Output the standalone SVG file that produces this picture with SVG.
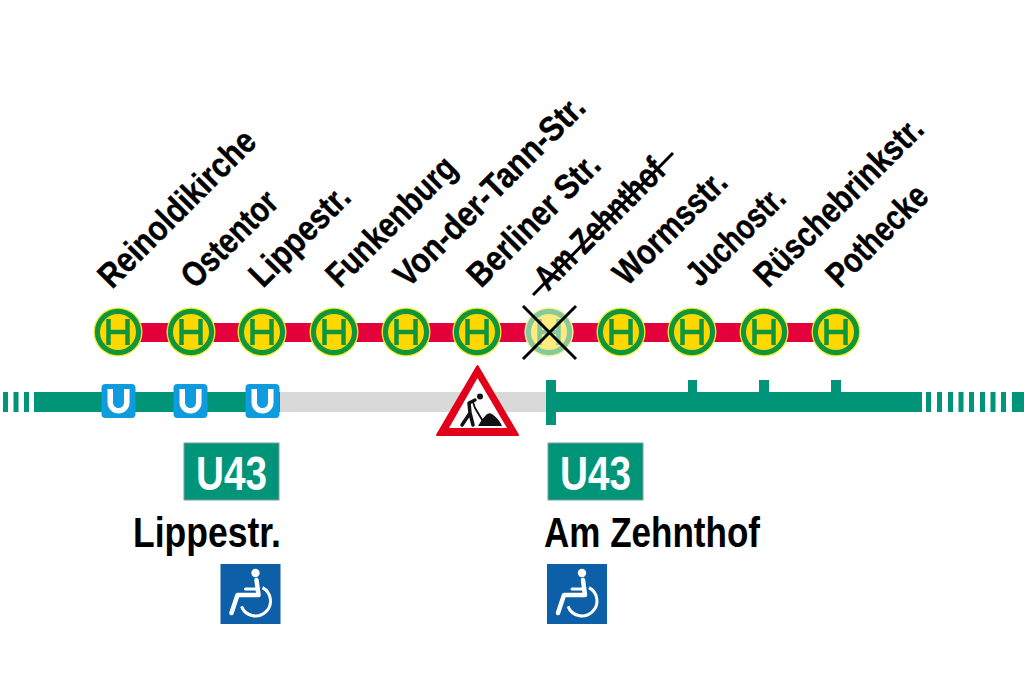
<svg xmlns="http://www.w3.org/2000/svg" width="1024" height="682" viewBox="0 0 1024 682">
<defs>
<style>
.lab{font-family:"Liberation Sans",Arial,sans-serif;font-weight:700;font-size:35px;fill:#000;stroke:#000;stroke-width:.4px}
.big{font-family:"Liberation Sans",Arial,sans-serif;font-weight:700;font-size:42px;fill:#000}
.u{font-family:"Liberation Sans",Arial,sans-serif;font-weight:700;font-size:49px;fill:#fff}
.t{fill:#009479}
</style>
<g id="halt">
<circle r="24.500" fill="#f2ee2a"/>
<circle r="23.200" fill="#0f953c"/>
<circle r="18" fill="#ffd800"/>
<path d="M-9.500-13V13M9.500-13V13M-9.500 0H9.500" fill="none" stroke="#0f953c" stroke-width="4.500"/>
</g>
<g id="ubahn">
<rect x="-17" y="-17" width="34" height="34" rx="4" fill="#0f9cde"/>
<path d="M-8.250-12V1.500A8.250 8.250 0 0 0 8.250 1.500V-12" fill="none" stroke="#fff" stroke-width="5.500"/>
</g>
<g id="wheel">
<rect width="60" height="60" fill="#0d5fa8"/>
<circle cx="35" cy="9" r="4.200" fill="#fff"/>
<path d="M36 16L38 31H17L11 49" fill="none" stroke="#fff" stroke-width="4.500" stroke-linejoin="round" stroke-linecap="round"/>
<path d="M25 25H35" fill="none" stroke="#fff" stroke-width="3" stroke-linecap="round"/>
<path d="M42 23.700A15 15 0 1 1 21 42.400" fill="none" stroke="#fff" stroke-width="3"/>
</g>
</defs>
<g id="connectors">
<rect x="118" y="323" width="718" height="19" fill="#e4003a"/>
<rect x="34" y="392" width="246" height="20" class="t"/>
<rect x="280" y="392" width="266" height="20" fill="#d9d9d9"/>
<rect x="546" y="380" width="10" height="45" class="t"/>
<rect x="556" y="392" width="366" height="20" class="t"/>
<rect x="688" y="380" width="9" height="12" class="t"/>
<rect x="759" y="380" width="10" height="12" class="t"/>
<rect x="831" y="380" width="10" height="12" class="t"/>
<path d="M3 392h5v20h-5zM13.500 392h5v20h-5zM24 392h5v20h-5zM926 392h5v20h-5zM937 392h5v20h-5zM948 392h5v20h-5zM958.500 392h5v20h-5zM969 392h5v20h-5zM980 392h5v20h-5zM990.500 392h5v20h-5zM1001 392h5v20h-5zM1012 392h12v20h-12z" class="t"/>
</g>
<g id="stop-reinoldikirche"><use href="#halt" x="118" y="332"/><use href="#ubahn" x="118.500" y="401"/><text class="lab" transform="translate(112 290) rotate(-45)" textLength="207" lengthAdjust="spacingAndGlyphs">Reinoldikirche</text></g>
<g id="stop-ostentor"><use href="#halt" x="191" y="332"/><use href="#ubahn" x="190.500" y="401"/><text class="lab" transform="translate(195 290) rotate(-45)" textLength="121" lengthAdjust="spacingAndGlyphs">Ostentor</text></g>
<g id="stop-lippestr"><use href="#halt" x="262" y="332"/><use href="#ubahn" x="262.500" y="401"/><text class="lab" transform="translate(263 289) rotate(-45)" textLength="127" lengthAdjust="spacingAndGlyphs">Lippestr.</text></g>
<g id="stop-funkenburg"><use href="#halt" x="334" y="332"/><text class="lab" transform="translate(340 289) rotate(-45)" textLength="168" lengthAdjust="spacingAndGlyphs">Funkenburg</text></g>
<g id="stop-vondertann"><use href="#halt" x="406" y="332"/><text class="lab" transform="translate(408 289) rotate(-45)" textLength="254" lengthAdjust="spacingAndGlyphs">Von-der-Tann-Str.</text></g>
<g id="stop-berliner"><use href="#halt" x="477" y="332"/><text class="lab" transform="translate(481 289) rotate(-45)" textLength="172" lengthAdjust="spacingAndGlyphs">Berliner Str.</text></g>
<g id="stop-zehnthof"><circle cx="549" cy="332" r="24.500" fill="#fff"/><use href="#halt" x="549" y="332" opacity=".5"/><text class="lab" transform="translate(548 292) rotate(-45)" textLength="169" lengthAdjust="spacingAndGlyphs">Am Zehnthof</text>
<path d="M533 295L673 153" stroke="#000" stroke-width="3" fill="none"/>
<path d="M523 306L576 359M576 306L523 359" stroke="#000" stroke-width="3" fill="none"/></g>
<g id="stop-wormsstr"><use href="#halt" x="621" y="332"/><text class="lab" transform="translate(627 287) rotate(-45)" textLength="145" lengthAdjust="spacingAndGlyphs">Wormsstr.</text></g>
<g id="stop-juchostr"><use href="#halt" x="692" y="332"/><text class="lab" transform="translate(700 288) rotate(-45)" textLength="124" lengthAdjust="spacingAndGlyphs">Juchostr.</text></g>
<g id="stop-rueschebrink"><use href="#halt" x="764" y="332"/><text class="lab" transform="translate(768 289) rotate(-45)" textLength="223" lengthAdjust="spacingAndGlyphs">Rüschebrinkstr.</text></g>
<g id="stop-pothecke"><use href="#halt" x="836" y="332"/><text class="lab" transform="translate(840 289) rotate(-45)" textLength="128" lengthAdjust="spacingAndGlyphs">Pothecke</text></g>
<g id="roadworks">
<path d="M477.500 366L518 435H437Z" fill="#e2001a" stroke="#e2001a" stroke-width="2" stroke-linejoin="round"/>
<path d="M477.500 378L507 428H449Z" fill="#fff"/>
<path d="M478 426H502Q499 419 492 414Q489 412 486 415Q481 420 478 426Z" fill="#111"/>
<circle cx="480" cy="396.500" r="3" fill="#111"/>
<path d="M475 400L469 403L470 413L462 425M470 413L473 425" fill="none" stroke="#111" stroke-width="3.500" stroke-linejoin="round" stroke-linecap="round"/>
<path d="M473 402L475 408L484 423" fill="none" stroke="#111" stroke-width="1.800"/>
</g>
<g id="left-terminus">
<rect x="184" y="443" width="95" height="57" fill="#009479" stroke="#7d9f97"/>
<text class="u" x="196" y="490" textLength="71" lengthAdjust="spacingAndGlyphs">U43</text>
<text class="big" x="133" y="547" textLength="148" lengthAdjust="spacingAndGlyphs">Lippestr.</text>
<use href="#wheel" x="220.500" y="564"/>
</g>
<g id="right-terminus">
<rect x="548" y="443" width="95" height="57" fill="#009479" stroke="#7d9f97"/>
<text class="u" x="560" y="490" textLength="71" lengthAdjust="spacingAndGlyphs">U43</text>
<text class="big" x="544" y="547" textLength="216" lengthAdjust="spacingAndGlyphs">Am Zehnthof</text>
<use href="#wheel" x="547" y="564"/>
</g>
</svg>
